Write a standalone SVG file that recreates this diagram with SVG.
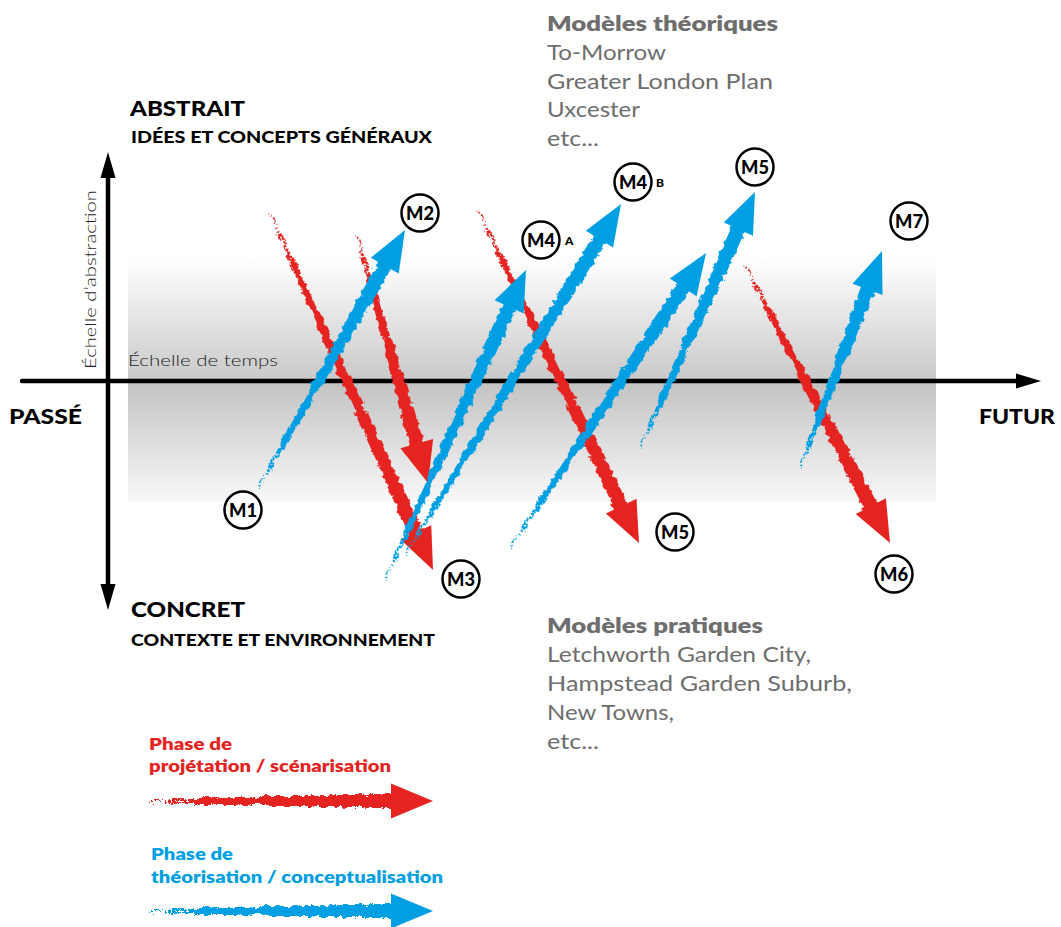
<svg xmlns="http://www.w3.org/2000/svg" width="1061" height="927" viewBox="0 0 1061 927">
<style>
text{font-family:Lato,"Noto Sans","Liberation Sans",sans-serif}
.hd{font-weight:900;fill:#000}
.gr{fill:#6e6e6e;font-size:21px}
.grb{fill:#6e6e6e;font-size:21px;font-weight:800}
.lbl{font-size:18px;font-weight:900;fill:#000;text-anchor:middle}
.sm{font-size:12px;font-weight:900;fill:#000}
.node circle{fill:#fff;stroke:#000;stroke-width:2.5}
.red .shaft{fill:url(#gRed);filter:url(#chalk)}
.blue .shaft{fill:url(#gBlue);filter:url(#chalk)}
.red .head{fill:#e52421}
.blue .head{fill:#009fe3}
.axis{stroke:#000;stroke-width:4.5;stroke-linecap:round;fill:none}
</style>
<defs>
<linearGradient id="band" x1="0" y1="0" x2="0" y2="1">
<stop offset="0" stop-color="#fff"/>
<stop offset="0.5" stop-color="#c9c9c9"/>
<stop offset="0.52" stop-color="#c4c4c4"/>
<stop offset="1" stop-color="#f8f8f8"/>
</linearGradient>
<linearGradient id="gRed" x1="0" y1="0" x2="1" y2="0">
<stop offset="0" stop-color="#e52421" stop-opacity="0.3"/>
<stop offset="0.3" stop-color="#e52421" stop-opacity="1"/>
<stop offset="1" stop-color="#e52421" stop-opacity="1"/>
</linearGradient>
<linearGradient id="gBlue" x1="0" y1="0" x2="1" y2="0">
<stop offset="0" stop-color="#009fe3" stop-opacity="0.3"/>
<stop offset="0.3" stop-color="#009fe3" stop-opacity="1"/>
<stop offset="1" stop-color="#009fe3" stop-opacity="1"/>
</linearGradient>
<filter id="chalk" x="-5%" y="-150%" width="110%" height="400%" color-interpolation-filters="sRGB">
<feTurbulence type="fractalNoise" baseFrequency="0.14" numOctaves="2" seed="4" result="n1"/>
<feDisplacementMap in="SourceGraphic" in2="n1" scale="7" xChannelSelector="R" yChannelSelector="G" result="d"/>
<feTurbulence type="fractalNoise" baseFrequency="0.5" numOctaves="2" seed="9" result="n2"/>
<feColorMatrix in="n2" type="matrix" values="0 0 0 0 0  0 0 0 0 0  0 0 0 0 0  1.6 0 0 0 -0.3" result="na"/>
<feColorMatrix in="d" type="matrix" values="0 0 0 0 0  0 0 0 0 0  0 0 0 0 0  0 0 0 1 0" result="da"/>
<feComposite in="da" in2="na" operator="arithmetic" k1="0" k2="1" k3="1" k4="-0.45" result="sum"/>
<feComponentTransfer in="sum" result="m"><feFuncA type="discrete" tableValues="0 1"/></feComponentTransfer>
<feColorMatrix in="d" type="matrix" values="1 0 0 0 0  0 1 0 0 0  0 0 1 0 0  0 0 0 60 0" result="solid"/>
<feComposite in="solid" in2="m" operator="in"/>
</filter>
</defs>

<rect id="band-bg" x="128" y="258" width="808" height="244" fill="url(#band)"/>

<g id="axes">
<line class="axis" x1="22" y1="381" x2="1022" y2="381"/>
<path d="M1041,381 L1016,373.5 L1016,388.5Z" fill="#000"/>
<line class="axis" x1="108" y1="172" x2="108" y2="590" stroke-linecap="butt"/>
<path d="M108,152 L100.5,178 L115.5,178Z" fill="#000"/>
<path d="M108,610 L100.5,584 L115.5,584Z" fill="#000"/>
</g>

<g id="labels">
<text class="hd" x="130" y="116" font-size="21" textLength="115" lengthAdjust="spacingAndGlyphs">ABSTRAIT</text>
<text class="hd" x="131" y="143" font-size="16" font-weight="800" textLength="301" lengthAdjust="spacingAndGlyphs">IDÉES ET CONCEPTS GÉNÉRAUX</text>
<text class="hd" x="131" y="617" font-size="21" textLength="114" lengthAdjust="spacingAndGlyphs">CONCRET</text>
<text class="hd" x="131" y="646" font-size="16" font-weight="800" textLength="304" lengthAdjust="spacingAndGlyphs">CONTEXTE ET ENVIRONNEMENT</text>
<text class="hd" x="9" y="424" font-size="21" textLength="73" lengthAdjust="spacingAndGlyphs">PASSÉ</text>
<text class="hd" x="979" y="424" font-size="21" textLength="76" lengthAdjust="spacingAndGlyphs">FUTUR</text>
<text x="128" y="366" font-size="16.5" font-weight="300" fill="#222" textLength="150" lengthAdjust="spacingAndGlyphs">Échelle de temps</text>
<text transform="translate(96,369) rotate(-90)" font-size="16.5" font-weight="300" fill="#222" textLength="179" lengthAdjust="spacingAndGlyphs">Échelle d’abstraction</text>
</g>

<g id="theory-models">
<text class="grb" x="547" y="31" textLength="231" lengthAdjust="spacingAndGlyphs">Modèles théoriques</text>
<text class="gr" x="547" y="60" textLength="119" lengthAdjust="spacingAndGlyphs">To-Morrow</text>
<text class="gr" x="547" y="89" textLength="226" lengthAdjust="spacingAndGlyphs">Greater London Plan</text>
<text class="gr" x="547" y="117" textLength="93" lengthAdjust="spacingAndGlyphs">Uxcester</text>
<text class="gr" x="547" y="146" textLength="52" lengthAdjust="spacingAndGlyphs">etc...</text>
</g>
<g id="practice-models">
<text class="grb" x="547" y="633" textLength="216" lengthAdjust="spacingAndGlyphs">Modèles pratiques</text>
<text class="gr" x="547" y="662" textLength="264" lengthAdjust="spacingAndGlyphs">Letchworth Garden City,</text>
<text class="gr" x="547" y="691" textLength="305" lengthAdjust="spacingAndGlyphs">Hampstead Garden Suburb,</text>
<text class="gr" x="547" y="720" textLength="127" lengthAdjust="spacingAndGlyphs">New Towns,</text>
<text class="gr" x="547" y="749" textLength="52" lengthAdjust="spacingAndGlyphs">etc...</text>
</g>

<g id="connectors">
<g class="red" transform="translate(270,213) rotate(65.46)"><path class="shaft" d="M0,-2 L358,-7.5 L358,7.5 L0,2Z"/><path class="head" d="M392.5,0 L351,-17 L351,17Z"/></g>
<g class="red" transform="translate(357,235) rotate(74.02)"><path class="shaft" d="M0,-2 L224,-7.5 L224,7.5 L0,2Z"/><path class="head" d="M258,0 L217,-17 L217,17Z"/></g>
<g class="red" transform="translate(478,210) rotate(64.20)"><path class="shaft" d="M0,-2 L335,-7.5 L335,7.5 L0,2Z"/><path class="head" d="M369.9,0 L329,-17 L329,17Z"/></g>
<g class="red" transform="translate(745,265) rotate(62.45)"><path class="shaft" d="M0,-2 L279,-7.5 L279,7.5 L0,2Z"/><path class="head" d="M313.5,0 L272,-17 L272,17Z"/></g>

<g class="blue" transform="translate(258,488) rotate(-60.32)"><path class="shaft" d="M0,-2 L262,-7.5 L262,7.5 L0,2Z"/><path class="head" d="M296.9,0 L256,-16 L256,16Z"/></g>
<g class="blue" transform="translate(385,580) rotate(-65.55)"><path class="shaft" d="M0,-2 L306,-7.5 L306,7.5 L0,2Z"/><path class="head" d="M340.6,0 L300,-16 L300,16Z"/></g>
<g class="blue" transform="translate(405,555) rotate(-58.39)"><path class="shaft" d="M0,-2 L377,-7.5 L377,7.5 L0,2Z"/><path class="head" d="M412.1,0 L371,-16 L371,16Z"/></g>
<g class="blue" transform="translate(510,548) rotate(-56.40)"><path class="shaft" d="M0,-2 L319,-7.5 L319,7.5 L0,2Z"/><path class="head" d="M354.2,0 L313,-16 L313,16Z"/></g>
<g class="blue" transform="translate(640,448) rotate(-65.81)"><path class="shaft" d="M0,-2 L246,-7.5 L246,7.5 L0,2Z"/><path class="head" d="M280.6,0 L240,-16 L240,16Z"/></g>
<g class="blue" transform="translate(800,468) rotate(-69.30)"><path class="shaft" d="M0,-2 L197,-7.5 L197,7.5 L0,2Z"/><path class="head" d="M232,0 L191,-16 L191,16Z"/></g>
</g>

<g id="n-m1" class="node"><circle cx="243" cy="510" r="18.5"/><text class="lbl" x="243" y="516.5" textLength="28" lengthAdjust="spacingAndGlyphs">M1</text></g>
<g id="n-m2" class="node"><circle cx="420" cy="213" r="18.5"/><text class="lbl" x="420" y="219.5" textLength="28" lengthAdjust="spacingAndGlyphs">M2</text></g>
<g id="n-m3" class="node"><circle cx="461" cy="579" r="18.5"/><text class="lbl" x="461" y="585.5" textLength="28" lengthAdjust="spacingAndGlyphs">M3</text></g>
<g id="n-m4a" class="node"><circle cx="541" cy="240" r="18.5"/><text class="lbl" x="541" y="246.5" textLength="28" lengthAdjust="spacingAndGlyphs">M4</text><text class="sm" x="565" y="245">A</text></g>
<g id="n-m4b" class="node"><circle cx="633" cy="182" r="18.5"/><text class="lbl" x="633" y="188.5" textLength="28" lengthAdjust="spacingAndGlyphs">M4</text><text class="sm" x="656" y="187">B</text></g>
<g id="n-m5a" class="node"><circle cx="755" cy="167" r="18.5"/><text class="lbl" x="755" y="173.5" textLength="28" lengthAdjust="spacingAndGlyphs">M5</text></g>
<g id="n-m5b" class="node"><circle cx="675" cy="532" r="18.5"/><text class="lbl" x="675" y="538.5" textLength="28" lengthAdjust="spacingAndGlyphs">M5</text></g>
<g id="n-m6" class="node"><circle cx="894" cy="574" r="18.5"/><text class="lbl" x="894" y="580.5" textLength="28" lengthAdjust="spacingAndGlyphs">M6</text></g>
<g id="n-m7" class="node"><circle cx="909" cy="221" r="18.5"/><text class="lbl" x="909" y="227.5" textLength="28" lengthAdjust="spacingAndGlyphs">M7</text></g>

<g id="legend">
<text x="149" y="750" font-size="16.5" font-weight="800" fill="#e52421" textLength="83" lengthAdjust="spacingAndGlyphs">Phase de</text>
<text x="149" y="772" font-size="16.5" font-weight="800" fill="#e52421" textLength="242" lengthAdjust="spacingAndGlyphs">projétation / scénarisation</text>
<g class="red" transform="translate(149,801)"><path class="shaft" d="M0,-2.5 L250,-7 L250,7 L0,2.5Z"/><path class="head" d="M284,0 L242,-17.5 L242,17.5Z"/></g>
<text x="151" y="860" font-size="16.5" font-weight="800" fill="#009fe3" textLength="82" lengthAdjust="spacingAndGlyphs">Phase de</text>
<text x="151" y="883" font-size="16.5" font-weight="800" fill="#009fe3" textLength="292" lengthAdjust="spacingAndGlyphs">théorisation / conceptualisation</text>
<g class="blue" transform="translate(149,911)"><path class="shaft" d="M0,-2.5 L250,-7 L250,7 L0,2.5Z"/><path class="head" d="M284,0 L242,-17.5 L242,17.5Z"/></g>
</g>
</svg>
